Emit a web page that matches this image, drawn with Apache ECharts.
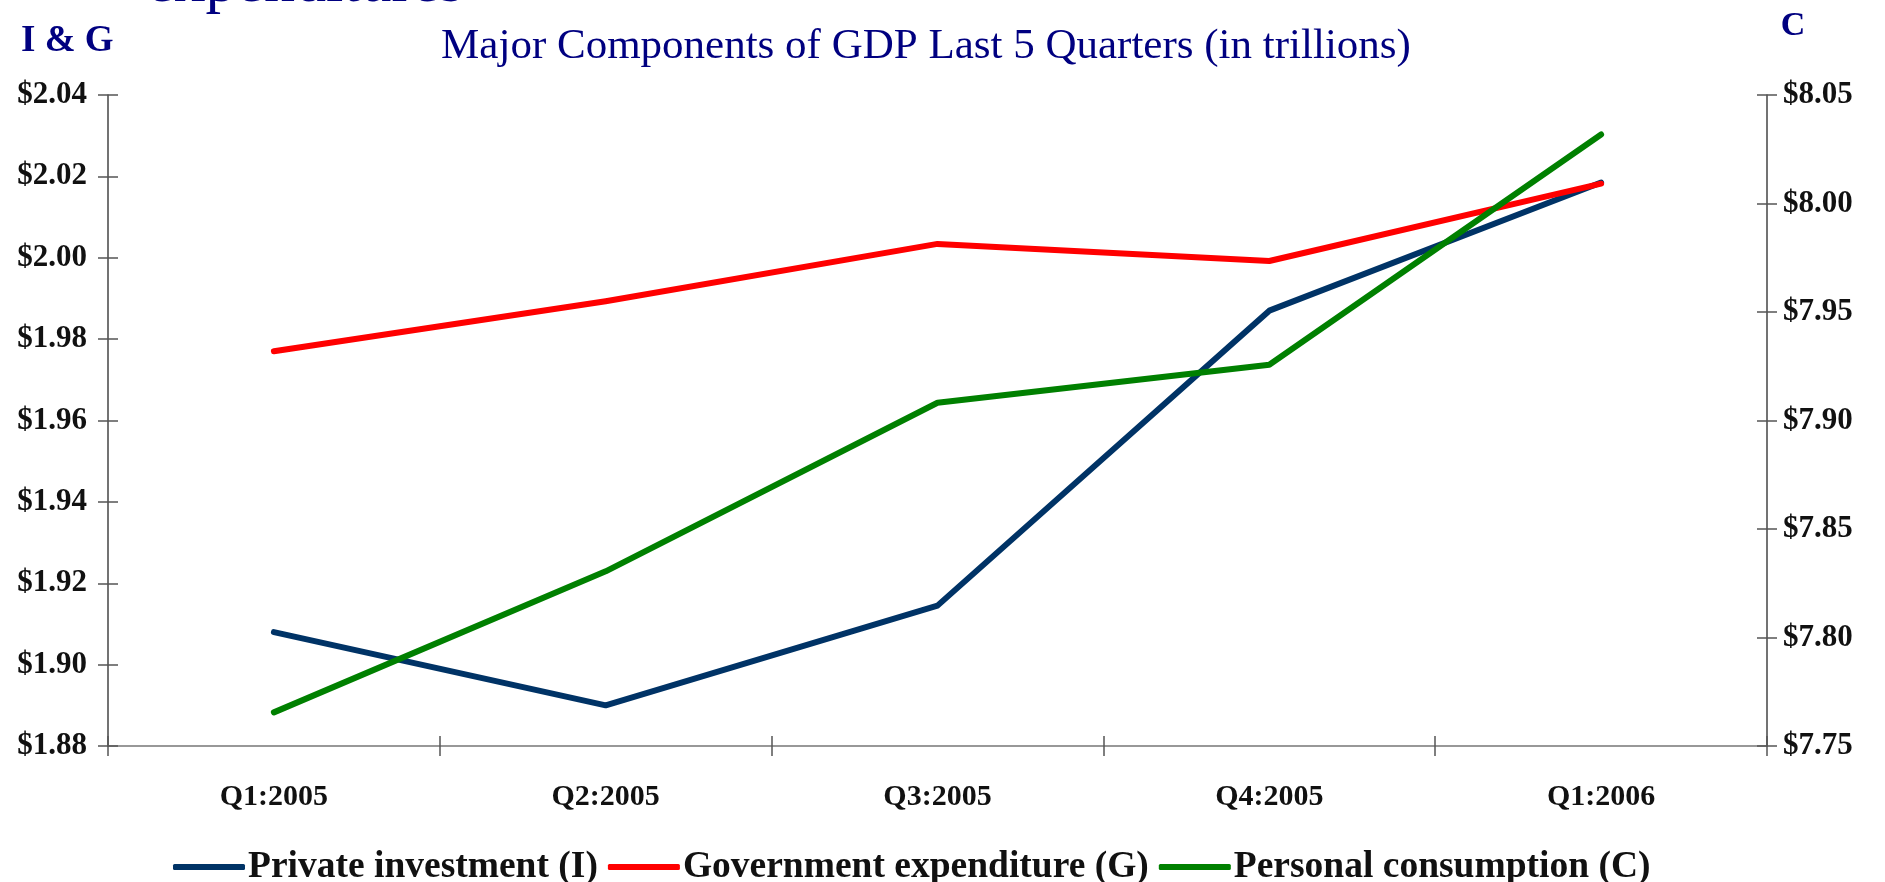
<!DOCTYPE html>
<html>
<head>
<meta charset="utf-8">
<title>Major Components of GDP Last 5 Quarters</title>
<script src="https://cdn.jsdelivr.net/npm/echarts@6/dist/echarts.min.js"></script>
<style>
  html, body { margin: 0; padding: 0; background: #ffffff; }
  #chart { width: 1885px; height: 882px; }
</style>
</head>
<body>
<div id="chart"></div>
<script>
// Quarterly GDP components, trillions of dollars
const quarters = ['Q1:2005', 'Q2:2005', 'Q3:2005', 'Q4:2005', 'Q1:2006'];
const privateInvestment = [1.908, 1.890, 1.9145, 1.987, 2.0185];
const governmentExpenditure = [1.977, 1.9893, 2.0034, 1.9992, 2.0182];
const personalConsumption = [7.7655, 7.8305, 7.9082, 7.9257, 8.0318];

// Axis ranges: I & G on the left, C on the right
const leftAxisRange = { min: 1.88, max: 2.04, step: 0.02 };
const rightAxisRange = { min: 7.75, max: 8.05, step: 0.05 };

const seriesNames = ['Private investment (I)', 'Government expenditure (G)', 'Personal consumption (C)'];
const seriesColors = ['#003366', '#ff0000', '#008000'];

const navy = '#000080';
const labelFont = '"Liberation Serif", "Times New Roman", serif';
const dollars = v => '$' + v.toFixed(2);

const chart = echarts.init(document.getElementById('chart'));

const tickStyle = { color: '#555', width: 1.5 };
const valueAxis = (range, position, withLabels) => ({
  type: 'value',
  position: position,
  min: range.min,
  max: range.max,
  interval: range.step,
  splitLine: { show: false },
  axisLine: { show: withLabels, lineStyle: { color: '#444', width: 1.5 } },
  axisTick: { show: true, inside: !withLabels, length: 10, lineStyle: tickStyle },
  axisLabel: {
    show: withLabels,
    formatter: dollars,
    margin: position === 'left' ? 21 : 16,
    color: '#111',
    fontFamily: labelFont,
    fontWeight: 'bold',
    fontSize: 31
  }
});

const categoryAxis = withLabels => ({
  type: 'category',
  position: 'bottom',
  data: quarters,
  boundaryGap: true,
  axisLine: { show: withLabels, lineStyle: { color: '#777', width: 1.5 } },
  axisTick: { show: true, inside: !withLabels, length: 10, lineStyle: tickStyle },
  axisLabel: {
    show: withLabels,
    margin: 36,
    color: '#111',
    fontFamily: labelFont,
    fontWeight: 'bold',
    fontSize: 30
  }
});

const lineSeries = (idx, values, yAxisIndex) => ({
  name: seriesNames[idx],
  type: 'line',
  data: values,
  xAxisIndex: 0,
  yAxisIndex: yAxisIndex,
  symbol: 'none',
  smooth: false,
  lineStyle: { color: seriesColors[idx], width: 6, cap: 'round', join: 'round' },
  itemStyle: { color: seriesColors[idx] },
  emphasis: { disabled: true }
});

chart.setOption({
  animation: false,
  backgroundColor: '#ffffff',
  grid: { left: 108, right: 118, top: 95, bottom: 136, containLabel: false },
  xAxis: [categoryAxis(true), categoryAxis(false)],
  yAxis: [
    valueAxis(leftAxisRange, 'left', true),
    valueAxis(rightAxisRange, 'right', true),
    valueAxis(leftAxisRange, 'left', false),
    valueAxis(rightAxisRange, 'right', false)
  ],
  legend: {
    data: seriesNames,
    icon: 'roundRect',
    left: 168,
    top: 843,
    itemWidth: 72,
    itemHeight: 6,
    itemGap: 10,
    textStyle: {
      color: '#111',
      fontFamily: labelFont,
      fontWeight: 'bold',
      fontSize: 37.5,
      padding: [0, 0, 0, -2]
    }
  },
  series: [
    lineSeries(0, privateInvestment, 0),
    lineSeries(1, governmentExpenditure, 0),
    lineSeries(2, personalConsumption, 1)
  ],
  graphic: [
    {
      type: 'text',
      left: 147,
      top: -46,
      style: {
        text: 'expenditures',
        font: 'normal 62px "Liberation Serif", serif',
        fill: navy
      }
    },
    {
      type: 'text',
      x: 926,
      y: 25,
      style: {
        text: 'Major Components of GDP Last 5 Quarters (in trillions)',
        font: 'normal 43px "Liberation Serif", serif',
        fill: navy,
        align: 'center',
        verticalAlign: 'top'
      }
    },
    {
      type: 'text',
      x: 21,
      y: 23,
      style: {
        text: 'I & G',
        font: 'bold 37px "Liberation Serif", serif',
        fill: navy,
        align: 'left',
        verticalAlign: 'top'
      }
    },
    {
      type: 'text',
      x: 1793,
      y: 9,
      style: {
        text: 'C',
        font: 'bold 34px "Liberation Serif", serif',
        fill: navy,
        align: 'center',
        verticalAlign: 'top'
      }
    }
  ]
});
</script>
</body>
</html>
